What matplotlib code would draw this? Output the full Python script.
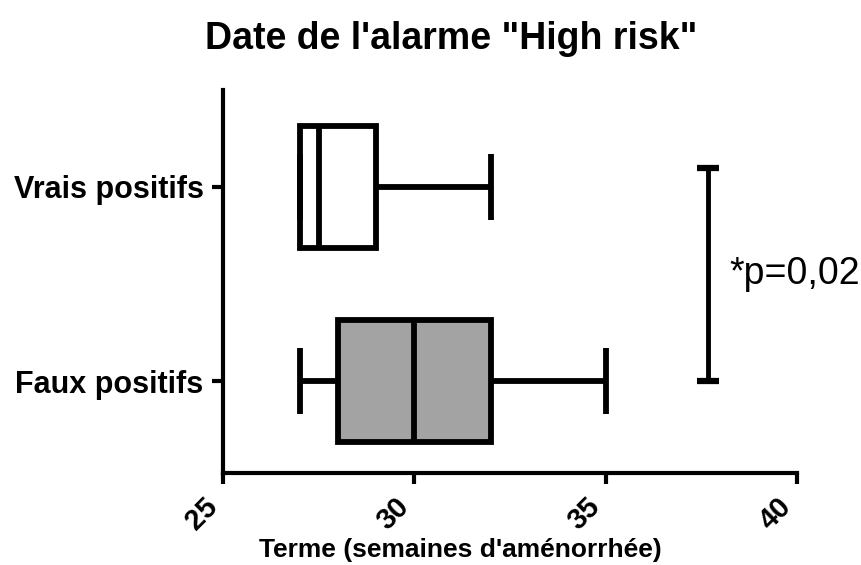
import matplotlib
matplotlib.use("Agg")
import matplotlib.pyplot as plt

# data
groups = ["Faux positifs", "Vrais positifs"]
whislo = [27, 27]
q1 = [28, 27]
med = [30, 27.5]
q3 = [32, 29]
whishi = [35, 32]
fills = ["#a3a3a3", "white"]

xticks = [25, 30, 35, 40]
sig_x = 37.67
sig_y = (1.0, 2.1)
sig_label = "*p=0,02"


def main():
    plt.rcParams["font.family"] = ["Liberation Sans", "DejaVu Sans"]
    fig = plt.figure(figsize=(8.61, 5.65), dpi=100)
    ax = fig.add_axes([0.259, 0.1628, 0.6667, 0.678])

    stats = []
    for i, name in enumerate(groups):
        stats.append({"label": name, "whislo": whislo[i], "q1": q1[i], "med": med[i],
                      "q3": q3[i], "whishi": whishi[i], "fliers": []})
    lw = 4.2
    bp = ax.bxp(stats, positions=[1, 2], vert=False, widths=0.63, patch_artist=True,
                showfliers=False,
                boxprops=dict(linewidth=lw, edgecolor="black"),
                medianprops=dict(linewidth=lw, color="black"),
                whiskerprops=dict(linewidth=lw, color="black", solid_capstyle="butt"),
                capprops=dict(linewidth=lw, color="black", solid_capstyle="butt"),
                capwidths=0.34)
    for patch, c in zip(bp["boxes"], fills):
        patch.set_facecolor(c)

    # significance bar
    ax.plot([sig_x, sig_x], sig_y, color="black", lw=3.5, solid_capstyle="butt")
    for yy in sig_y:
        ax.plot([sig_x - 0.29, sig_x + 0.29], [yy, yy], color="black", lw=4.5,
                solid_capstyle="butt")
    ax.text(sig_x + 0.55, sum(sig_y) / 2, sig_label, fontsize=27, va="center", ha="left")

    ax.set_xlim(25, 40)
    ax.set_ylim(0.526, 2.5)
    ax.set_xticks(xticks)
    ax.set_xticklabels([str(t) for t in xticks], rotation=45, ha="right",
                       fontsize=21, fontweight="bold")
    ax.set_yticks([1, 2])
    ax.set_yticklabels(groups, fontsize=22, fontweight="bold")
    ax.tick_params(axis="both", length=8, width=3, pad=6)
    for s in ["top", "right"]:
        ax.spines[s].set_visible(False)
    for s in ["left", "bottom"]:
        ax.spines[s].set_linewidth(3)

    ax.set_xlabel("Terme (semaines d'aménorrhée)", fontsize=19, fontweight="bold")
    ax.xaxis.set_label_coords(0.413, -0.17)
    fig.text(0.524, 1 - 49 / 565, "Date de l'alarme \"High risk\"", fontsize=27,
             fontweight="bold", ha="center", va="baseline")

    fig.savefig("out.png", dpi=100)


if __name__ == "__main__":
    main()
